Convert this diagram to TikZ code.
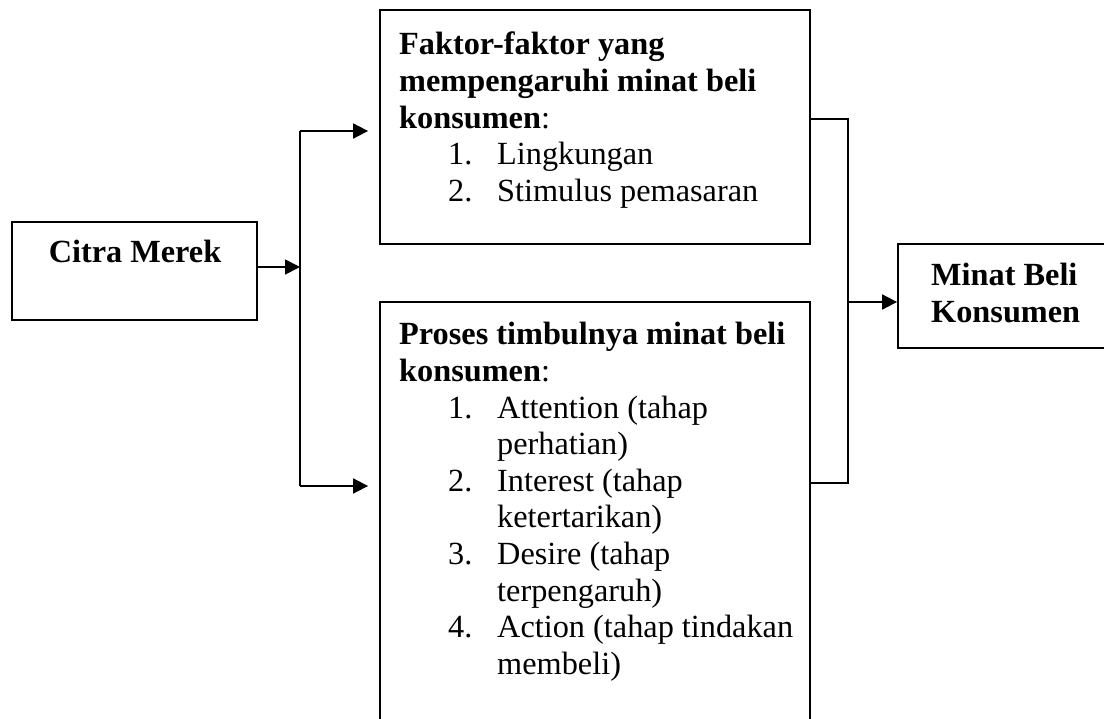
\documentclass[tikz,border=0pt]{standalone}
\usepackage{fontspec}
\setmainfont{Liberation Serif}
\usetikzlibrary{arrows.meta}
\newcommand{\hd}[1]{\hbox{#1}}
\newcommand{\itm}[2]{\hbox{\hspace*{49pt}\makebox[49pt][l]{#1}#2}}
\newcommand{\cnt}[1]{\hbox{\hspace*{98pt}#1}}

\begin{document}
\begin{tikzpicture}[x=1pt, y=-1pt,
	box/.style={draw, line width=1.8pt, inner sep=0pt},
	txt/.style={inner sep=0pt, anchor=base west, font=\fontsize{32.3}{36.6}\selectfont},
	ln/.style={line width=1.8pt},
	arr/.style={line width=1.8pt, -{Triangle[length=15pt,width=15pt]}}]
	\clip (0,0) rectangle (1104,719);

	% boxes
	\node[box, minimum width=245pt, minimum height=98pt] (citra) at (134.5,271) {};
	\node[box, minimum width=430pt, minimum height=234pt] (faktor) at (595,127) {};
	\node[box, minimum width=430pt, minimum height=438pt] (proses) at (595,521) {};
	\node[box, minimum width=217pt, minimum height=104pt] (minat) at (1006.5,296) {};

	% texts
	\node[txt, anchor=base] (citralbl) at (135,263) {\textbf{Citra Merek}};
	\node[txt] (faktorlbl) at (399,55) {\vtop{%
		\hd{\textbf{Faktor-faktor yang}}
		\hd{\textbf{mempengaruhi minat beli}}
		\hd{\textbf{konsumen}:}
		\itm{1.}{Lingkungan}
		\itm{2.}{Stimulus pemasaran}}};
	\node[txt] (proseslbl) at (399,345) {\vtop{%
		\hd{\textbf{Proses timbulnya minat beli}}
		\hd{\textbf{konsumen}:}
		\itm{1.}{Attention (tahap}
		\cnt{perhatian)}
		\itm{2.}{Interest (tahap}
		\cnt{ketertarikan)}
		\itm{3.}{Desire (tahap}
		\cnt{terpengaruh)}
		\itm{4.}{Action (tahap tindakan}
		\cnt{membeli)}}};
	\node[txt] (minatlbl) at (931,285.5) {\vtop{%
		\hd{\textbf{Minat Beli}}
		\hd{\textbf{Konsumen}}}};

	% connectors
	\coordinate (split) at (300,267);
	\coordinate (upper) at (300,131);
	\coordinate (lower) at (300,486);
	\draw[arr] (citra.east |- split) -- (split);
	\draw[ln] (upper) -- (lower);
	\draw[arr, shorten >=11pt] (upper) -- (upper -| faktor.west);
	\draw[arr, shorten >=11pt] (lower) -- (lower -| proses.west);

	\coordinate (jtop) at (848,119);
	\coordinate (jbot) at (848,483);
	\coordinate (join) at (848,302);
	\draw[ln] (faktor.east |- jtop) -- (jtop) -- (jbot) -- (proses.east |- jbot);
	\draw[arr] (join) -- (join -| minat.west);
\end{tikzpicture}
\end{document}
